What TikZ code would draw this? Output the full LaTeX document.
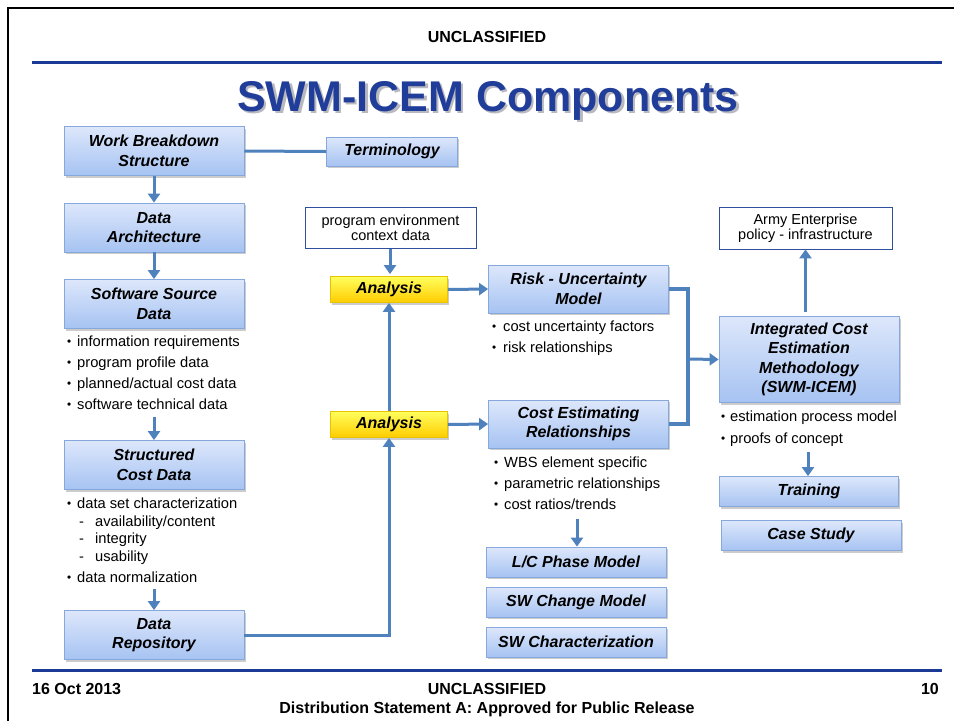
\documentclass[tikz,border=0pt]{standalone}
\usepackage{graphicx}
\usepackage{fontspec}
\setmainfont{Liberation Sans}
\usetikzlibrary{arrows.meta,shadows,calc}

\definecolor{rulebl}{HTML}{1B3A96}
\definecolor{titlebl}{HTML}{1F3D99}
\definecolor{linkbl}{HTML}{4F81BD}
\definecolor{boxtop}{HTML}{DDE7FB}
\definecolor{boxbot}{HTML}{A6C3F2}
\definecolor{boxedge}{HTML}{86A8DC}
\definecolor{yeltop}{HTML}{FFFF5C}
\definecolor{yelbot}{HTML}{FFCC00}
\definecolor{yeledge}{HTML}{E8C400}
\definecolor{noteedge}{HTML}{2F4E9E}
\definecolor{titleshadow}{HTML}{B8B8C0}

% small bullet and dash markers for the item lists
\newcommand\itembul[1][10pt]{\makebox[#1][l]{\raisebox{0.6pt}{\scalebox{0.8}{\textbullet}}}}
\newcommand\itemdash{\makebox[16pt][l]{-}}
% title text with a soft grey copy set behind it
\newcommand\shadedtitle[1]{\makebox[0pt][l]{\hspace{2.5pt}\raisebox{-2.5pt}{\textcolor{titleshadow}{#1}}}\textcolor{titlebl}{#1}}

\begin{document}
\begin{tikzpicture}[x=1pt,y=-1pt,
  comp/.style={draw=boxedge, line width=0.8pt, top color=boxtop, bottom color=boxbot,
    drop shadow={shadow xshift=1.5pt, shadow yshift=-2pt, opacity=0.2, fill=black},
    font=\fontsize{16}{19.5}\selectfont\bfseries\itshape, align=center, inner sep=0pt},
  hilite/.style={draw=yeledge, line width=0.8pt, top color=yeltop, bottom color=yelbot,
    drop shadow={shadow xshift=1.5pt, shadow yshift=-2pt, opacity=0.2, fill=black},
    font=\fontsize{16}{19.5}\selectfont\bfseries\itshape, inner sep=0pt},
  note/.style={draw=noteedge, line width=0.8pt, fill=white,
    font=\fontsize{14.5}{15.5}\selectfont, align=center, inner sep=0pt},
  link/.style={draw=linkbl, line width=3pt},
  merge/.style={draw=linkbl, line width=4pt},
  flow/.style={link, -{Triangle[length=9pt,width=12pt]}},
  bulletline/.style={anchor=base west, inner sep=0pt, font=\fontsize{14.7}{17}\selectfont},
  banner/.style={font=\fontsize{16}{18}\selectfont\bfseries, inner sep=0pt}
]
\useasboundingbox (0,0) rectangle (954,721);
\fill[white] (0,0) rectangle (954,721);

% page frame
\draw[line width=2.5pt] (8,721) -- (8,8) -- (954,8);

% header, title and rules
\node[banner, anchor=base] (hdr) at (487,42) {UNCLASSIFIED};
\draw[rulebl, line width=3pt] (32,62) -- (942,62);
\node[font=\fontsize{43}{48}\selectfont\bfseries, anchor=base, inner sep=0pt]
  (title) at (488,111) {\shadedtitle{SWM-ICEM Components}};

% footer
\draw[rulebl, line width=3pt] (32,670) -- (942,670);
\node[banner, anchor=base west] (date) at (32,694) {16 Oct 2013};
\node[banner, anchor=base] (ftr) at (487,694) {UNCLASSIFIED};
\node[banner, anchor=base east] (pg) at (939,694) {10};
\node[banner, anchor=base] (dist) at (487,713) {Distribution Statement A: Approved for Public Release};

% left column
\node[comp, minimum width=180pt, minimum height=49pt] (wbs)  at (154,151)   {Work Breakdown\\Structure};
\node[comp, minimum width=131pt, minimum height=29pt] (term) at (392,151.5) {Terminology};
\node[comp, minimum width=180pt, minimum height=49pt] (arch) at (154,227.5) {Data\\Architecture};
\node[comp, minimum width=180pt, minimum height=49pt] (ssd)  at (154,304)   {Software Source\\Data};
\node[comp, minimum width=180pt, minimum height=49pt] (scd)  at (154,465)   {Structured\\Cost Data};
\node[comp, minimum width=180pt, minimum height=49pt] (repo) at (154,635)   {Data\\Repository};

\foreach \t [count=\i from 0] in {information requirements, program profile data,
    planned/actual cost data, software technical data}
  \node[bulletline] (ssdl\i) at (67,{346+21*\i}) {\itembul\t};

\node[bulletline] (scdl0) at (67,508) {\itembul data set characterization};
\node[bulletline] (scdl1) at (79,526) {\itemdash availability/content};
\node[bulletline] (scdl2) at (79,543) {\itemdash integrity};
\node[bulletline] (scdl3) at (79,561) {\itemdash usability};
\node[bulletline] (scdl4) at (67,582) {\itembul data normalization};

% middle column
\node[note, minimum width=171pt, minimum height=41pt] (env) at (390.5,228) {program environment\\context data};
\node[hilite, minimum width=117pt, minimum height=26pt] (an1) at (389,289.5) {Analysis};
\node[hilite, minimum width=117pt, minimum height=26pt] (an2) at (389,424.5) {Analysis};
\node[comp, minimum width=180pt, minimum height=48pt] (risk) at (578.5,289) {Risk - Uncertainty\\Model};
\node[comp, minimum width=180pt, minimum height=48pt] (cer)  at (578.5,424) {Cost Estimating\\Relationships};

\node[bulletline] (riskl0) at (492,331) {\itembul[11pt]cost uncertainty factors};
\node[bulletline] (riskl1) at (492,352) {\itembul[11pt]risk relationships};

\foreach \t [count=\i from 0] in {WBS element specific, parametric relationships, cost ratios/trends}
  \node[bulletline] (cerl\i) at (494,{467.5+21*\i}) {\itembul\t};

\node[comp, minimum width=180pt, minimum height=30pt] (lc)     at (576,562) {L/C Phase Model};
\node[comp, minimum width=180pt, minimum height=30pt] (swchg)  at (576,602) {SW Change Model};
\node[comp, minimum width=180pt, minimum height=30pt] (swchar) at (576,642) {SW Characterization};

% right column
\node[note, minimum width=173pt, minimum height=42pt] (army) at (805.5,228) {Army Enterprise\\policy - infrastructure};
\node[comp, minimum width=180pt, minimum height=86pt] (icem) at (809,359.5)
  {Integrated Cost\\Estimation\\Methodology\\(SWM-ICEM)};
\node[bulletline] (iceml0) at (721,421) {\itembul[9pt]estimation process model};
\node[bulletline] (iceml1) at (721,443) {\itembul[9pt]proofs of concept};
\node[comp, minimum width=179pt, minimum height=30pt] (train) at (809,491.5) {Training};
\node[comp, minimum width=180pt, minimum height=30pt] (case)  at (811,535.5) {Case Study};

% connectors
\draw[link] (wbs.east) -- (term.west);
\draw[flow] (wbs.south) -- (arch.north);
\draw[flow] (arch.south) -- (ssd.north);
\coordinate (ssdout) at (154,417);
\draw[flow] (ssdout) -- (scd.north);
\coordinate (scdout) at (154,589);
\draw[flow] (scdout) -- (repo.north);
\draw[flow] (repo.east) -| (an2.south);
\draw[flow] (an2.north) -- (an1.south);
\draw[flow] (env.south -| an1.north) ++(1,0) -- ($(an1.north)+(1,-2)$);
\draw[flow] (an1.east) -- (risk.west);
\draw[flow] (an2.east) -- (cer.west);
\coordinate (jn) at (688,359);
\draw[merge] (risk.east) -| (jn) |- (cer.east);
\draw[flow] (jn) -- (icem.west);
\draw[flow] (icem.north -| army.south) ++(0,-4) -- (army.south);
\coordinate (icemout) at (808,452);
\draw[flow] (icemout) -- (icemout |- train.north);
\coordinate (cerout) at (577,519);
\draw[flow] (cerout) -- (cerout |- lc.north);
\end{tikzpicture}
\end{document}
